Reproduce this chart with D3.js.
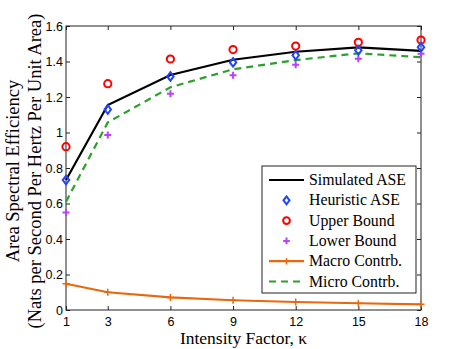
<!DOCTYPE html>
<html>
<head>
<meta charset="utf-8">
<script src="https://cdn.jsdelivr.net/npm/d3@7"></script>
<style>
  body { margin: 0; background: #fff; }
  svg { display: block; }
</style>
</head>
<body>
<svg id="chart" width="464" height="349"></svg>
<script>
// data
const kappa = [1, 3, 6, 9, 12, 15, 18];
const simulatedASE = [0.732, 1.155, 1.324, 1.41, 1.455, 1.48, 1.46];
const heuristicASE = [0.732, 1.13, 1.316, 1.395, 1.435, 1.463, 1.48];
const upperBound = [0.92, 1.275, 1.414, 1.467, 1.487, 1.508, 1.521];
const lowerBound = [0.55, 0.986, 1.219, 1.322, 1.382, 1.416, 1.444];
const macroContrb = [0.148, 0.1, 0.071, 0.055, 0.045, 0.038, 0.032];
const microContrb = [0.61, 1.057, 1.255, 1.356, 1.408, 1.446, 1.424];
const yTicks = [0, 0.2, 0.4, 0.6, 0.8, 1, 1.2, 1.4, 1.6];

const svg = d3.select('#chart');
const width = 464;
const height = 349;
const margin = { top: 26, right: 43, bottom: 39, left: 66 };

const x = d3.scaleLinear()
  .domain([1, 18])
  .range([margin.left, width - margin.right]);
const y = d3.scaleLinear()
  .domain([0, 1.6])
  .range([height - margin.bottom, margin.top]);

const tickFont = '"Liberation Sans", Arial, sans-serif';
const serif = '"Liberation Serif", "Times New Roman", serif';

// box
svg.append('rect')
  .attr('x', x(1)).attr('y', y(1.6))
  .attr('width', x(18) - x(1)).attr('height', y(0) - y(1.6))
  .attr('fill', 'none').attr('stroke', '#222').attr('stroke-width', 1);

const tk = 4;
const xAxis = svg.append('g').attr('transform', `translate(0,${y(0)})`)
  .call(d3.axisBottom(x).tickValues(kappa).tickSize(-tk).tickPadding(7).tickFormat(d3.format('d')));
const xTop = svg.append('g').attr('transform', `translate(0,${y(1.6)})`)
  .call(d3.axisTop(x).tickValues(kappa).tickSize(-tk).tickFormat(''));
const yAxis = svg.append('g').attr('transform', `translate(${x(1)},0)`)
  .call(d3.axisLeft(y).tickValues(yTicks).tickSize(-tk).tickPadding(3).tickFormat(d => d3.format('')(d)));
const yRight = svg.append('g').attr('transform', `translate(${x(18)},0)`)
  .call(d3.axisRight(y).tickValues(yTicks).tickSize(-tk).tickFormat(''));

[xAxis, xTop, yAxis, yRight].forEach(g => {
  g.select('.domain').remove();
  g.selectAll('line').attr('stroke', '#222');
  g.selectAll('text').attr('font-family', tickFont).attr('font-size', 12.5).attr('fill', '#000');
});

// lines
const line = d3.line().x((d, i) => x(kappa[i])).y(d => y(d));

svg.append('path').datum(microContrb).attr('d', line)
  .attr('fill', 'none').attr('stroke', '#2ca02c').attr('stroke-width', 2.2)
  .attr('stroke-dasharray', '7,5');

svg.append('path').datum(simulatedASE).attr('d', line)
  .attr('fill', 'none').attr('stroke', '#000').attr('stroke-width', 2.2);

svg.append('path').datum(macroContrb).attr('d', line)
  .attr('fill', 'none').attr('stroke', '#e8680c').attr('stroke-width', 2.2);

const plusPath = s => `M${-s},0H${s}M0,${-s}V${s}`;
const diamondPath = s => `M0,${-s}L${s * 0.75},0L0,${s}L${-s * 0.75},0Z`;

svg.append('g').selectAll('path').data(macroContrb).join('path')
  .attr('transform', (d, i) => `translate(${x(kappa[i])},${y(d)})`)
  .attr('d', plusPath(3.5)).attr('stroke', '#e8680c').attr('stroke-width', 1.5).attr('fill', 'none');

svg.append('g').selectAll('path').data(lowerBound).join('path')
  .attr('transform', (d, i) => `translate(${x(kappa[i])},${y(d)})`)
  .attr('d', plusPath(3.5)).attr('stroke', '#bf3fff').attr('stroke-width', 2).attr('fill', 'none');

svg.append('g').selectAll('circle').data(upperBound).join('circle')
  .attr('cx', (d, i) => x(kappa[i])).attr('cy', d => y(d)).attr('r', 3.6)
  .attr('stroke', '#ff0000').attr('stroke-width', 2).attr('fill', 'none');

svg.append('g').selectAll('path').data(heuristicASE).join('path')
  .attr('transform', (d, i) => `translate(${x(kappa[i])},${y(d)})`)
  .attr('d', diamondPath(4.3)).attr('stroke', '#1f45ff').attr('stroke-width', 2).attr('fill', 'none');

// legend
const lg = svg.append('g').attr('transform', 'translate(262,166)');
lg.append('rect').attr('width', 154).attr('height', 127)
  .attr('fill', '#fff').attr('stroke', '#222').attr('stroke-width', 1);
const items = [
  { label: 'Simulated ASE', line: '#000' },
  { label: 'Heuristic ASE', marker: 'diamond', color: '#1f45ff' },
  { label: 'Upper Bound', marker: 'circle', color: '#ff0000' },
  { label: 'Lower Bound', marker: 'plus', color: '#bf3fff' },
  { label: 'Macro Contrb.', line: '#e8680c', marker: 'plus', color: '#e8680c' },
  { label: 'Micro Contrb.', line: '#2ca02c', dash: '7,5' }
];
items.forEach((it, i) => {
  const row = lg.append('g').attr('transform', `translate(0,${14 + i * 20.3})`);
  if (it.line) {
    row.append('line').attr('x1', 7).attr('x2', 42).attr('y1', 0).attr('y2', 0)
      .attr('stroke', it.line).attr('stroke-width', 2.2)
      .attr('stroke-dasharray', it.dash || null);
  }
  if (it.marker === 'diamond') {
    row.append('path').attr('transform', 'translate(24.5,0)').attr('d', diamondPath(4))
      .attr('stroke', it.color).attr('stroke-width', 2).attr('fill', 'none');
  } else if (it.marker === 'circle') {
    row.append('circle').attr('cx', 24.5).attr('r', 3.4)
      .attr('stroke', it.color).attr('stroke-width', 2).attr('fill', 'none');
  } else if (it.marker === 'plus') {
    row.append('path').attr('transform', 'translate(24.5,0)').attr('d', plusPath(3.3))
      .attr('stroke', it.color).attr('stroke-width', it.line ? 1.5 : 2).attr('fill', 'none');
  }
  row.append('text').attr('x', 47).attr('y', 5)
    .attr('font-family', serif).attr('font-size', 15.8).attr('fill', '#000')
    .text(it.label);
});

// axis labels
svg.append('text')
  .attr('x', (x(1) + x(18)) / 2).attr('y', 344)
  .attr('text-anchor', 'middle')
  .attr('font-family', serif).attr('font-size', 17.5).attr('fill', '#000')
  .text('Intensity Factor, κ');

const yl = svg.append('g').attr('transform', `translate(0,${(y(0) + y(1.6)) / 2 + 3}) rotate(-90)`);
yl.append('text').attr('x', 0).attr('y', 19)
  .attr('text-anchor', 'middle')
  .attr('font-family', serif).attr('font-size', 18.5).attr('fill', '#000')
  .text('Area Spectral Efficiency');
yl.append('text').attr('x', 0).attr('y', 41)
  .attr('text-anchor', 'middle')
  .attr('font-family', serif).attr('font-size', 18.5).attr('fill', '#000')
  .text('(Nats per Second Per Hertz Per Unit Area)');
</script>
</body>
</html>
